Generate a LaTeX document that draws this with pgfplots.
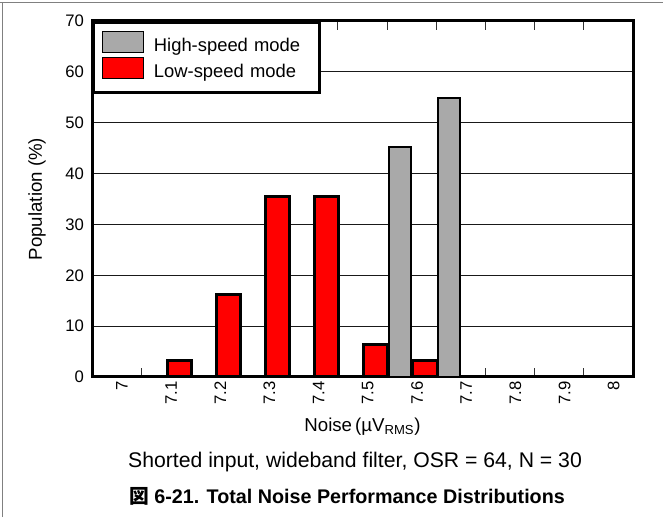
\documentclass[border=0pt]{standalone}
\usepackage{fontspec}
\setmainfont{Liberation Sans}
\newfontfamily\cjk{Noto Sans CJK JP}
\usepackage{pgfplots}
\pgfplotsset{compat=1.18}

\definecolor{hsgray}{HTML}{A9A9A9}
\definecolor{lsred}{HTML}{FF0000}

% legend swatch: plain box, thin outline
\pgfplotsset{legbox/.style={legend image code/.code={%
  \draw[##1, line width=0.75pt] (0pt,-4.4pt) rectangle (30.75pt,11.4pt);}}}

\begin{document}
\begin{tikzpicture}
\useasboundingbox (0,0) rectangle (497.25pt,387.75pt);
% page frame lines of the source
\draw[gray, line width=0.75pt] (0,385.5pt) -- (497.25pt,385.5pt);
\draw[gray, line width=0.75pt] (1.5pt,0) -- (1.5pt,385.5pt);

\begin{axis}[
    at={(69pt,105pt)}, anchor=south west,
    scale only axis,
    width=405.75pt, height=267pt,
    xmin=6.95, xmax=8.05,
    ymin=0, ymax=70,
    xtick={7,7.1,7.2,7.3,7.4,7.5,7.6,7.7,7.8,7.9,8},
    xticklabels={7,7.1,7.2,7.3,7.4,7.5,7.6,7.7,7.8,7.9,8},
    minor xtick={7.05,7.15,7.25,7.35,7.45,7.55,7.65,7.75,7.85,7.95},
    ytick={0,10,20,30,40,50,60,70},
    major tick length=0pt,
    minor tick length=6.5pt,
    minor x tick style={black!80, line width=0.75pt},
    ymajorgrids=true,
    grid style={black!90, line width=0.6pt},
    axis line style={line width=2.25pt},
    /pgf/number format/assume math mode=true,
    tick label style={font=\fontsize{12.5}{14}\selectfont},
    xticklabel style={rotate=90, anchor=east, yshift=-4pt},
    yticklabel style={xshift=-2.5pt},
    xlabel={Noise\,(µV\textsubscript{RMS})},
    xlabel style={at={([yshift=-41pt]rel axis cs:0.5,0)}, anchor=base,
        font=\fontsize{14}{16}\selectfont},
    ylabel={Population (\%)},
    ylabel style={at={([xshift=-41.25pt]rel axis cs:0,0.5)}, anchor=center,
        font=\fontsize{14}{16}\selectfont},
    legend cell align=left,
    legend style={at={(0,1)}, anchor=north west, draw=black,
        line width=2.25pt, fill=white,
        inner xsep=6.3pt, inner ysep=6.5pt,
        row sep=0pt, column sep=7.5pt,
        font=\fontsize{13.8}{16}\selectfont,
        nodes={inner sep=0pt, text height=11.4pt, text depth=4.4pt,
            text width=118pt, align=left}},
]

% High-speed mode (N = 31)
\addplot[ybar, bar width=0.045, bar shift=0pt, fill=hsgray, draw=black,
    line width=1.5pt, legbox]
    coordinates {
    (7.025,0) (7.5765,45.16) (7.6765,54.84) (7.7275,0) (7.8275,0) (7.9275,0) (8.0275,0)
    };
\addlegendentry{High-speed mode}

% Low-speed mode (N = 31)
\addplot[ybar, bar width=0.049, bar shift=0pt, fill=lsred, draw=black,
    line width=2.25pt, legbox]
    coordinates {
    (7.027,0) (7.127,3.23) (7.227,16.13) (7.327,35.48) (7.427,35.48)
    (7.527,6.45) (7.627,3.23) (7.727,0) (7.827,0) (7.927,0) (8.027,0)
    };
\addlegendentry{Low-speed mode}
\end{axis}

\node[anchor=base, font=\fontsize{15.9}{18}\selectfont] at (266.25pt,37.5pt)
    {Shorted input, wideband filter, OSR = 64, N = 30};
\node[anchor=base, font=\fontsize{14.8}{17}\selectfont\bfseries] at (260.25pt,9.75pt)
    {{\cjk 図} 6-21. Total Noise Performance Distributions};
\end{tikzpicture}
\end{document}
